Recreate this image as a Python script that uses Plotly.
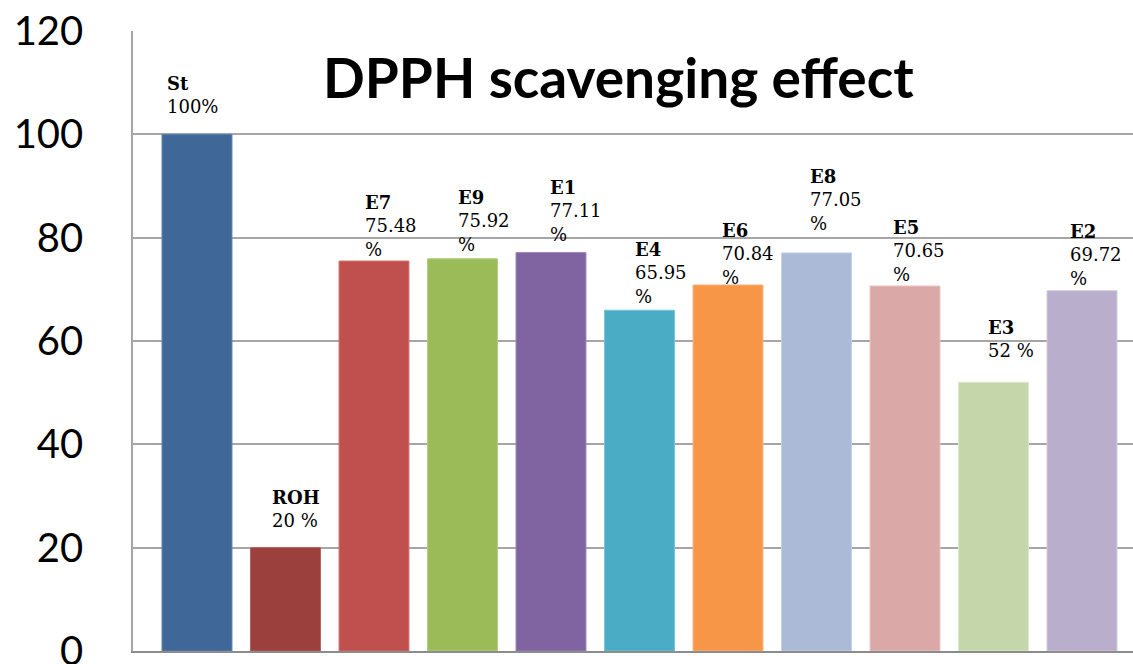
import plotly.graph_objects as go

# Samples and their DPPH scavenging (%)
samples = ["St", "ROH", "E7", "E9", "E1", "E4", "E6", "E8", "E5", "E3", "E2"]
scavenging = [100, 20, 75.48, 75.92, 77.11, 65.95, 70.84, 77.05, 70.65, 52, 69.72]
# separator between the number and the % sign in each label
pct_sep = ["", " ", "<br>", "<br>", "<br>", "<br>", "<br>", "<br>", "<br>", " ", "<br>"]

bar_colors = ["#3F6797", "#9B403D", "#C0504D", "#9BBB59", "#8064A2", "#4BACC6",
              "#F79646", "#AABAD7", "#D9A8A7", "#C5D6AA", "#B9AECB"]
edge_colors = ["#5B82B4", "#B5605D", "#D7726F", "#B3CF7C", "#9A83B9", "#74C3D8",
               "#FBB27F", "#C3D0E8", "#EDC3C2", "#DCE8C6", "#D0C8DD"]

# label offsets (px) relative to the top-centre of each bar
label_dx = [-32, -15, -11, -7, -3, -7, -8, -9, -14, -8, -14]
label_dy = [63, 63, 71, 74, 78, 73, 67, 89, 71, 67, 72]

ticks = [0, 20, 40, 60, 80, 100, 120]

fig = go.Figure()
fig.add_trace(go.Bar(
    x=samples,
    y=scavenging,
    marker=dict(color=bar_colors, line=dict(color=edge_colors, width=1)),
    hoverinfo="x+y",
))

for name, val, sep, dx, dy in zip(samples, scavenging, pct_sep, label_dx, label_dy):
    fig.add_annotation(
        x=name, y=val, xref="x", yref="y",
        text=f"<b>{name}</b><br>{val:g}{sep}%",
        showarrow=False, xanchor="left", yanchor="top", align="left",
        xshift=dx, yshift=dy,
        font=dict(family="DejaVu Serif", size=18, color="#000000"),
    )

fig.add_annotation(
    x=0.485, y=0.925, xref="paper", yref="paper",
    text="<b>DPPH scavenging effect</b>",
    showarrow=False, xanchor="center", yanchor="middle",
    font=dict(family="Lato", size=55, color="#000000"),
)

fig.update_layout(
    width=1133, height=664,
    margin=dict(l=133, r=0, t=31, b=13, autoexpand=False),
    paper_bgcolor="white", plot_bgcolor="white",
    bargap=0.21,
    showlegend=False,
    xaxis=dict(
        range=[-0.723, 10.576], automargin=False,
        showticklabels=False, ticks="",
        showgrid=False, zeroline=False,
        showline=True, linecolor="#8C8C8C", linewidth=1.5,
    ),
    yaxis=dict(
        range=[0, 120], tickvals=ticks, automargin=False,
        showgrid=True, gridcolor="#A6A6A6", gridwidth=1.5,
        zeroline=False,
        showline=True, linecolor="#A6A6A6", linewidth=1.5,
        ticks="", ticklabelstandoff=40, ticklabeloverflow="allow",
        tickfont=dict(family="Lato", size=40, color="#000000"),
    ),
)

fig.write_html("out.html")
